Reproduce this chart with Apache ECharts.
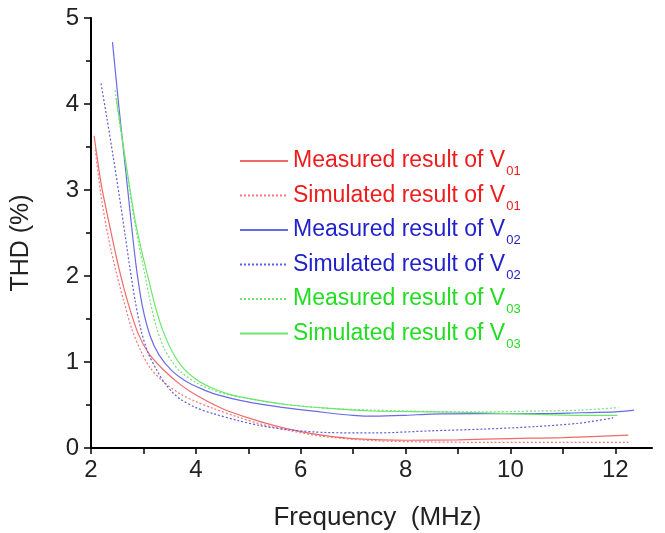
<!DOCTYPE html>
<html><head><meta charset="utf-8">
<script src="https://cdn.jsdelivr.net/npm/echarts@6/dist/echarts.min.js"></script>
<style>html,body{margin:0;padding:0;background:#fff}#c{width:665px;height:533px}</style>
</head><body><div id="c"></div>
<script>
// ---- data ----
const xLabelValues = [2, 4, 6, 8, 10, 12];
const xTickValues = [2, 3, 4, 5, 6, 7, 8, 9, 10, 11, 12];
const yLabelValues = [0, 1, 2, 3, 4, 5];

const seriesNames = [
  'Measured result of V01',
  'Simulated result of V01',
  'Measured result of V02',
  'Simulated result of V02',
  'Measured result of V03',
  'Simulated result of V03'
];

// Measured V01 (red solid)
const fM01 = [2.06, 2.2, 2.35, 2.54, 2.7, 2.9, 3.1, 3.38, 3.7, 4.02, 4.5, 5.0, 5.5, 6.0, 6.5, 7.0, 8.0, 9.0, 10.0, 11.0, 12.25];
const vM01 = [3.63, 3.05, 2.6, 2.07, 1.7, 1.33, 1.1, 0.91, 0.74, 0.61, 0.46, 0.35, 0.26, 0.19, 0.14, 0.11, 0.09, 0.095, 0.11, 0.12, 0.15];
// Simulated V01 (red dotted)
const fS01 = [2.08, 2.2, 2.33, 2.47, 2.62, 2.78, 2.95, 3.13, 3.4, 3.7, 4.0, 4.33, 4.8, 5.23, 5.8, 6.5, 7.4, 8.5, 9.6, 11.0, 12.25];
const vS01 = [3.47, 2.9, 2.45, 2.07, 1.72, 1.38, 1.13, 0.93, 0.76, 0.63, 0.54, 0.46, 0.36, 0.28, 0.2, 0.13, 0.085, 0.07, 0.066, 0.066, 0.066];
// Measured V02 (blue solid)
const fM02 = [2.41, 2.53, 2.64, 2.75, 2.86, 2.98, 3.13, 3.3, 3.54, 3.8, 4.1, 4.4, 4.8, 5.23, 5.8, 6.5, 7.0, 7.4, 8.0, 8.5, 9.5, 10.5, 11.33, 12.0, 12.36];
const vM02 = [4.72, 3.98, 3.35, 2.72, 2.12, 1.65, 1.3, 1.08, 0.9, 0.78, 0.69, 0.62, 0.56, 0.51, 0.46, 0.41, 0.38, 0.37, 0.38, 0.395, 0.4, 0.4, 0.41, 0.42, 0.44];
// Simulated V02 (blue dotted)
const fS02 = [2.19, 2.3, 2.42, 2.54, 2.65, 2.74, 2.84, 2.95, 3.08, 3.25, 3.4, 3.55, 3.7, 4.0, 4.33, 4.8, 5.23, 5.8, 6.5, 7.4, 8.5, 9.5, 10.5, 11.33, 11.96];
const vS02 = [4.24, 3.85, 3.4, 2.93, 2.48, 2.1, 1.72, 1.38, 1.12, 0.91, 0.76, 0.65, 0.57, 0.47, 0.4, 0.32, 0.26, 0.21, 0.18, 0.175, 0.2, 0.22, 0.25, 0.29, 0.35];
// Measured V03 (green dotted)
const fM03 = [2.46, 2.55, 2.65, 2.78, 2.9, 3.01, 3.13, 3.25, 3.4, 3.55, 3.7, 4.0, 4.3, 4.61, 5.23, 5.8, 6.56, 7.38, 8.47, 9.42, 10.5, 11.33, 12.06];
const vM03 = [4.16, 3.76, 3.35, 2.82, 2.4, 2.07, 1.7, 1.4, 1.15, 1.0, 0.89, 0.76, 0.68, 0.62, 0.55, 0.5, 0.46, 0.44, 0.425, 0.42, 0.43, 0.44, 0.47];
// Simulated V03 (green solid)
const fS03 = [2.48, 2.6, 2.72, 2.85, 2.97, 3.09, 3.22, 3.35, 3.55, 3.76, 4.0, 4.3, 4.61, 5.23, 5.8, 6.56, 7.38, 8.47, 9.42, 10.5, 11.33, 12.04];
const vS03 = [4.07, 3.58, 3.1, 2.62, 2.28, 1.98, 1.66, 1.4, 1.12, 0.93, 0.8, 0.7, 0.63, 0.55, 0.5, 0.46, 0.43, 0.42, 0.41, 0.39, 0.38, 0.38];

const freqs = [fM01, fS01, fM02, fS02, fM03, fS03];
const vals = [vM01, vS01, vM02, vS02, vM03, vS03];

// ---- styles ----
const lineColors = ['#f06a6a', '#f07878', '#6a6ae6', '#5c5cdc', '#78e078', '#6ee66e'];
const lineTypes = ['solid', [2, 2], 'solid', [2, 2], [2, 2], 'solid'];
const textColors = ['#ee1c1c', '#ee1c1c', '#2222cc', '#2222cc', '#22dd22', '#22dd22'];
const FONT = '"Liberation Sans", Arial, sans-serif';

const series = seriesNames.map((name, i) => ({
  name: name,
  type: 'line',
  data: freqs[i].map((f, k) => [f, vals[i][k]]),
  symbol: 'none',
  smooth: 0.3,
  lineStyle: { color: lineColors[i], width: 1.2, type: lineTypes[i] },
  itemStyle: { color: lineColors[i] },
  emphasis: { disabled: true },
  z: 2
}));

const legendData = seriesNames.map((name, i) => ({
  name: name,
  textStyle: {
    color: textColors[i],
    fontFamily: FONT,
    fontSize: 23,
    lineHeight: 34,
    rich: {
      main: { color: textColors[i], fontFamily: FONT, fontSize: 23, lineHeight: 34 },
      sub: { color: textColors[i], fontFamily: FONT, fontSize: 13, lineHeight: 13, verticalAlign: 'bottom', padding: [0, 0, 0, 1] }
    }
  }
}));

const chart = echarts.init(document.getElementById('c'), null, { renderer: 'canvas' });
chart.setOption({
  animation: false,
  backgroundColor: '#ffffff',
  grid: { left: 91, top: 18, right: 13, bottom: 85, containLabel: false, outerBoundsMode: 'none' },
  legend: {
    orient: 'vertical',
    left: 239,
    top: 144,
    padding: 0,
    itemWidth: 48,
    itemHeight: 14,
    itemGap: 0.5,
    itemStyle: { opacity: 0 },
    data: legendData,
    formatter: function (name) {
      return name.replace(/V(\d\d)$/, 'V{sub|$1}');
    },
    selectedMode: false
  },
  xAxis: {
    type: 'value',
    min: 2,
    max: 12.7,
    interval: 2,
    name: 'Frequency  (MHz)',
    nameLocation: 'middle',
    nameGap: 57,
    nameTextStyle: { color: '#222', fontFamily: FONT, fontSize: 26, padding: [0, 0, 0, 12] },
    axisLine: { show: true, lineStyle: { color: '#000', width: 2 } },
    axisTick: { show: true, length: 6, lineStyle: { color: '#000', width: 1.5 }, customValues: xTickValues },
    axisLabel: { color: '#222', fontFamily: FONT, fontSize: 24, margin: 10, customValues: xLabelValues },
    splitLine: { show: false }
  },
  yAxis: {
    type: 'value',
    min: 0,
    max: 5,
    interval: 1,
    name: 'THD (%)',
    nameLocation: 'middle',
    nameGap: 57,
    nameTextStyle: { color: '#222', fontFamily: FONT, fontSize: 25, padding: [0, 20, 0, 0] },
    axisLine: { show: true, lineStyle: { color: '#000', width: 2 } },
    axisTick: { show: true, length: 7, lineStyle: { color: '#000', width: 1.5 } },
    minorTick: { show: true, splitNumber: 2, length: 5, lineStyle: { color: '#000', width: 1.5 } },
    axisLabel: { color: '#222', fontFamily: FONT, fontSize: 24, margin: 12, customValues: yLabelValues },
    splitLine: { show: false },
    minorSplitLine: { show: false }
  },
  series: series
});
</script>
</body></html>
